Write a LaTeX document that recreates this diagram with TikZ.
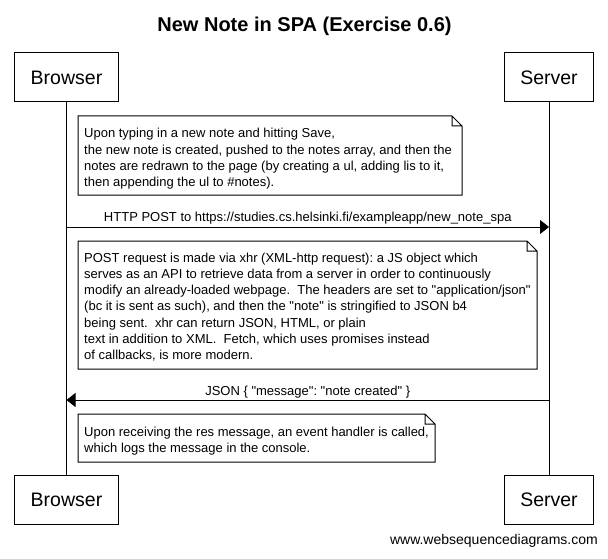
\documentclass[tikz,border=0pt]{standalone}
\usepackage{fontspec}
\setmainfont{Liberation Sans}[Ligatures=TeXOff]
\usetikzlibrary{arrows.meta}
\frenchspacing
\newcommand{\notetext}[1]{\parbox[t]{480pt}{\raggedright #1}}

\begin{document}
\begin{tikzpicture}[x=1pt,y=-1pt,
    every node/.style={font=\fontsize{13}{16.3}\selectfont, inner sep=0pt},
    actor/.style={draw, line width=1pt, minimum height=49pt, inner xsep=16pt, font=\fontsize{19.5}{23}\selectfont},
    msg/.style={line width=1pt, -{Triangle[length=9pt,width=14pt]}},
    notebox/.style={line width=1pt}]
  \useasboundingbox (0,0) rectangle (608,559);
  \node[font=\fontsize{20}{24}\selectfont\bfseries, anchor=base] (title) at (304.5,32) {New Note in SPA (Exercise 0.6)};
  \node[actor] (bTop) at (66.5,77.5) {Browser};
  \node[actor] (sTop) at (549,77.5) {Server};
  \node[actor] (bBot) at (66.5,499.5) {Browser};
  \node[actor] (sBot) at (549,499.5) {Server};
  \draw[line width=1pt] (bTop) -- (bBot);
  \draw[line width=1pt] (sTop) -- (sBot);
  \draw[notebox] (78,116) -- (452,116) -- (462,126) -- (462,195) -- (78,195) -- cycle (452,116) -- (452,126) -- (462,126);
  \node[anchor=base west] (note1) at (84,138) {\notetext{Upon typing in a new note and hitting Save,\\
    the new note is created, pushed to the notes array, and then the\\
    notes are redrawn to the page (by creating a ul, adding lis to it,\\
    then appending the ul to \#notes).}};
  \coordinate (b1) at (bTop |- 0,227);
  \coordinate (s1) at (sTop |- 0,227);
  \draw[msg] (b1) -- (s1) node[midway, anchor=base, yshift=5pt] (m1) {HTTP POST to https://studies.cs.helsinki.fi/exampleapp/new\_note\_spa};
  \draw[notebox] (78,241) -- (527,241) -- (537,251) -- (537,369) -- (78,369) -- cycle (527,241) -- (527,251) -- (537,251);
  \node[anchor=base west] (note2) at (84,262) {\notetext{POST request is made via xhr (XML-http request): a JS object which\\
    serves as an API to retrieve data from a server in order to continuously\\
    modify an already-loaded webpage.\ \ The headers are set to "application/json"\\
    (bc it is sent as such), and then the "note" is stringified to JSON b4\\
    being sent.\ \ xhr can return JSON, HTML, or plain\\
    text in addition to XML.\ \ Fetch, which uses promises instead\\
    of callbacks, is more modern.}};
  \coordinate (b2) at (bTop |- 0,400);
  \coordinate (s2) at (sTop |- 0,400);
  \draw[msg] (s2) -- (b2) node[midway, anchor=base, yshift=5pt] (m2) {JSON \{ "message": "note created" \}};
  \draw[notebox] (78,414) -- (425,414) -- (435,424) -- (435,462) -- (78,462) -- cycle (425,414) -- (425,424) -- (435,424);
  \node[anchor=base west] (note3) at (84,436) {\notetext{Upon receiving the res message, an event handler is called,\\
    which logs the message in the console.}};
  \node[font=\fontsize{14}{17}\selectfont, anchor=base east] (wsd) at (598,544) {www.websequencediagrams.com};
\end{tikzpicture}
\end{document}
